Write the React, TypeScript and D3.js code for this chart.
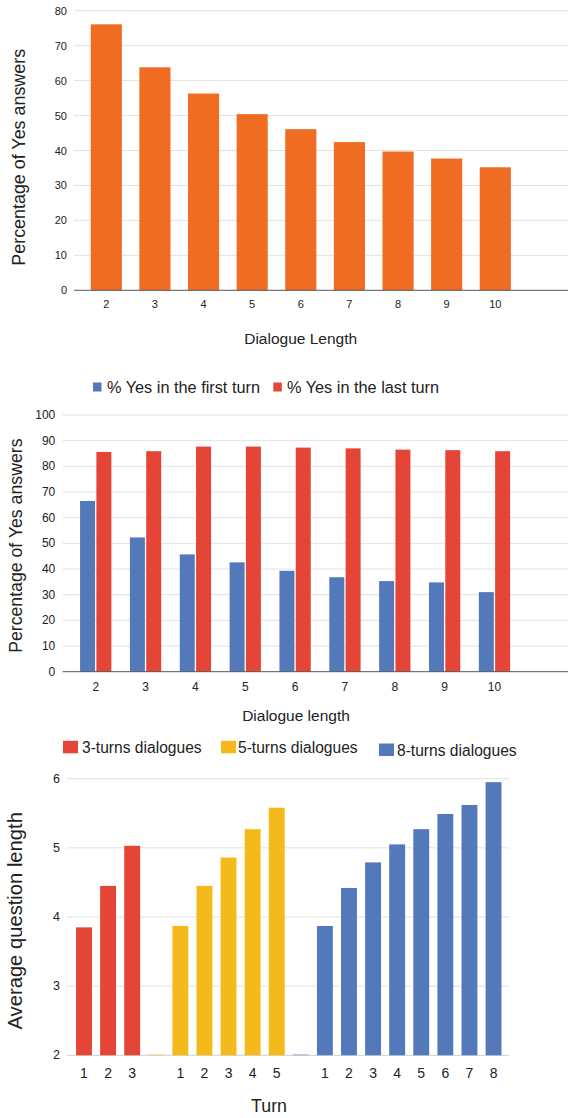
import React from "react";
import * as d3 from "d3";

// ---------- Chart 1 data ----------
const lengths1 = ["2", "3", "4", "5", "6", "7", "8", "9", "10"];
const yesPct = [76.1, 63.8, 56.3, 50.4, 46.1, 42.4, 39.7, 37.7, 35.2];
const ticks1 = [0, 10, 20, 30, 40, 50, 60, 70, 80];

// ---------- Chart 2 data ----------
const lengths2 = ["2", "3", "4", "5", "6", "7", "8", "9", "10"];
const firstTurn = [66.5, 52.3, 45.7, 42.6, 39.3, 36.8, 35.3, 34.8, 31.0];
const lastTurn = [85.6, 85.9, 87.7, 87.7, 87.3, 87.0, 86.5, 86.3, 85.9];
const ticks2 = [0, 10, 20, 30, 40, 50, 60, 70, 80, 90, 100];
const series2 = ["% Yes in the first turn", "% Yes in the last turn"];

// ---------- Chart 3 data ----------
const groups3 = ["3-turns dialogues", "5-turns dialogues", "8-turns dialogues"];
const turns3 = [3.85, 4.45, 5.03];
const turns5 = [3.87, 4.45, 4.86, 5.27, 5.58];
const turns8 = [3.87, 4.42, 4.79, 5.05, 5.27, 5.49, 5.62, 5.95];
const ticks3 = [2, 3, 4, 5, 6];

const ORANGE = "#EF6C22";
const BLUE = "#5479BB";
const RED = "#E44536";
const YELLOW = "#F4B91A";
const GRID = "#e2e2e2";
const FONT = "'Liberation Sans', Arial, sans-serif";
const TXT = "#222";

function Chart1() {
  const y = d3.scaleLinear().domain([0, 80]).range([290.3, 10.7]);
  const x = d3.scaleBand().domain(lengths1).range([82, 519.6]).paddingInner(0.36).paddingOuter(0.18);
  return (
    <g>
      {ticks1.map((t) => (
        <g key={t}>
          {t !== 0 && <line x1={74} x2={568} y1={y(t)} y2={y(t)} stroke={GRID} strokeWidth={1} />}
          <text x={67} y={y(t)} textAnchor="end" dominantBaseline="central" fontSize={11} fill={TXT}>{t}</text>
        </g>
      ))}
      {lengths1.map((c, i) => (
        <rect key={c} x={x(c)} y={y(yesPct[i])} width={x.bandwidth()} height={y(0) - y(yesPct[i])} fill={ORANGE} />
      ))}
      <line x1={74} x2={568} y1={y(0)} y2={y(0)} stroke="#555" strokeWidth={1} />
      {lengths1.map((c) => (
        <text key={c} x={(x(c) as number) + x.bandwidth() / 2} y={304} textAnchor="middle" dominantBaseline="central" fontSize={11} fill={TXT}>{c}</text>
      ))}
      <text x={300.7} y={338.3} textAnchor="middle" dominantBaseline="central" fontSize={15.5} fill={TXT}>Dialogue Length</text>
      <text transform={`translate(19,157.3) rotate(-90)`} textAnchor="middle" dominantBaseline="central" fontSize={17.9} fill={TXT}>Percentage of Yes answers</text>
    </g>
  );
}

function Chart2() {
  const y = d3.scaleLinear().domain([0, 100]).range([671.7, 415]);
  const x = d3.scaleBand().domain(lengths2).range([70.8, 519.4]).paddingInner(0.372).paddingOuter(0.186);
  const xs = d3.scaleBand().domain(series2).range([0, x.bandwidth()]).paddingInner(0.08);
  const colors = [BLUE, RED];
  const vals = [firstTurn, lastTurn];
  return (
    <g>
      {ticks2.map((t) => (
        <g key={t}>
          {t !== 0 && <line x1={62.7} x2={568} y1={y(t)} y2={y(t)} stroke={GRID} strokeWidth={1} />}
          <text x={55.3} y={y(t)} textAnchor="end" dominantBaseline="central" fontSize={12} fill={TXT}>{t}</text>
        </g>
      ))}
      {lengths2.map((c, i) =>
        series2.map((s, k) => (
          <rect key={c + s} x={(x(c) as number) + (xs(s) as number)} y={y(vals[k][i])} width={xs.bandwidth()} height={y(0) - y(vals[k][i])} fill={colors[k]} />
        ))
      )}
      <line x1={62.7} x2={568} y1={y(0)} y2={y(0)} stroke="#555" strokeWidth={1} />
      {lengths2.map((c) => (
        <text key={c} x={(x(c) as number) + x.bandwidth() / 2} y={686.7} textAnchor="middle" dominantBaseline="central" fontSize={12} fill={TXT}>{c}</text>
      ))}
      <text x={296} y={715} textAnchor="middle" dominantBaseline="central" fontSize={15.5} fill={TXT}>Dialogue length</text>
      <text transform={`translate(16,545.7) rotate(-90)`} textAnchor="middle" dominantBaseline="central" fontSize={17.7} fill={TXT}>Percentage of Yes answers</text>
      {/* legend */}
      <rect x={93} y={382.5} width={8.5} height={9} fill={BLUE} />
      <text x={107} y={387} dominantBaseline="central" fontSize={16.3} fill={TXT}>{series2[0]}</text>
      <rect x={273.3} y={382.5} width={8.5} height={9} fill={RED} />
      <text x={287} y={387} dominantBaseline="central" fontSize={16.3} fill={TXT}>{series2[1]}</text>
    </g>
  );
}

function Chart3() {
  const y = d3.scaleLinear().domain([2, 6]).range([1055.3, 778.7]);
  const groupVals = [turns3, turns5, turns8];
  const colors = [RED, YELLOW, BLUE];
  type Slot = { key: string; label: string; value: number; color: string };
  const slots: Slot[] = [];
  groupVals.forEach((vals, g) => {
    if (g > 0) slots.push({ key: `gap${g}`, label: "", value: ticks3[0], color: colors[g] });
    vals.forEach((v, i) => slots.push({ key: `g${g}t${i + 1}`, label: String(i + 1), value: v, color: colors[g] }));
  });
  const step = 24.09;
  const x = d3
    .scaleBand()
    .domain(slots.map((s) => s.key))
    .range([84 - step / 2, 84 - step / 2 + step * slots.length])
    .paddingInner(0.34)
    .paddingOuter(0.17);
  const legendX = [
    { r: 63, t: 82, cy: 747.3 },
    { r: 221, t: 238, cy: 747.3 },
    { r: 379, t: 397, cy: 750 },
  ];
  return (
    <g>
      {ticks3.map((t) => (
        <g key={t}>
          <line x1={66.7} x2={509.3} y1={y(t)} y2={y(t)} stroke={t === 2 ? "#d0d0d0" : GRID} strokeWidth={1} />
          <text x={60} y={y(t)} textAnchor="end" dominantBaseline="central" fontSize={12.5} fill={TXT}>{t}</text>
        </g>
      ))}
      {slots.map((s) => (
        <rect key={s.key} x={x(s.key)} y={Math.min(y(s.value), y(2) - 1)} width={x.bandwidth()} height={Math.max(1, y(2) - y(s.value))} fill={s.color} opacity={s.label ? 1 : 0.5} />
      ))}
      {slots.filter((s) => s.label).map((s) => (
        <text key={s.key} x={(x(s.key) as number) + x.bandwidth() / 2} y={1072.7} textAnchor="middle" dominantBaseline="central" fontSize={14} fill={TXT}>{s.label}</text>
      ))}
      <text x={269} y={1106} textAnchor="middle" dominantBaseline="central" fontSize={17.8} fill={TXT}>Turn</text>
      <text transform={`translate(15,920.8) rotate(-90)`} textAnchor="middle" dominantBaseline="central" fontSize={20.2} fill={TXT}>Average question length</text>
      {groups3.map((g, i) => (
        <g key={g}>
          <rect x={legendX[i].r} y={legendX[i].cy - 6.5} width={15} height={12.5} fill={colors[i]} />
          <text x={legendX[i].t} y={legendX[i].cy} dominantBaseline="central" fontSize={15.6} fill={TXT}>{g}</text>
        </g>
      ))}
    </g>
  );
}

export default function App() {
  return (
    <svg width={568} height={1118} style={{ position: "absolute", left: 0, top: 0, background: "#fff" }} fontFamily={FONT}>
      <rect x={0} y={0} width={568} height={1118} fill="#fff" />
      <Chart1 />
      <Chart2 />
      <Chart3 />
    </svg>
  );
}
